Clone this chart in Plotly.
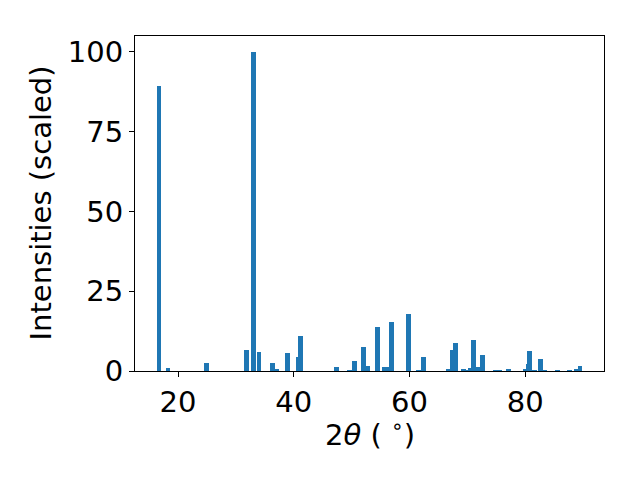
import plotly.graph_objects as go

two_theta = [16.70, 18.24, 24.89, 31.88, 33.09, 33.97, 36.29, 37.06, 38.88, 40.83,
             41.21, 47.34, 49.67, 50.54, 52.00, 52.78, 54.42, 55.63, 56.55, 56.93,
             59.77, 61.59, 62.37, 66.68, 67.43, 67.98, 69.36, 70.19, 70.53, 71.09,
             71.92, 72.64, 74.80, 75.66, 77.13, 80.03, 80.55, 80.76, 81.59, 82.66,
             83.43, 85.60, 87.67, 88.79, 89.48]
intensity = [89.4, 1.0, 2.4, 6.6, 100.0, 5.9, 2.4, 0.5, 5.6, 4.3,
             10.9, 1.2, 0.25, 3.05, 7.4, 1.5, 13.7, 1.2, 1.2, 15.3,
             17.8, 0.3, 4.3, 0.5, 6.5, 8.7, 0.5, 0.3, 0.85, 9.6,
             1.2, 4.9, 0.3, 0.3, 0.5, 0.5, 2.1, 6.2, 0.3, 3.7,
             0.3, 0.3, 0.3, 0.5, 1.5]
x_ticks = [20, 40, 60, 80]
y_ticks = [0, 25, 50, 75, 100]

fig = go.Figure(go.Bar(x=two_theta, y=intensity, width=0.8,
                       marker=dict(color="#1f77b4", line=dict(width=0))))

font = dict(family="DejaVu Sans", size=29, color="black")
fig.update_layout(
    width=640, height=480,
    margin=dict(l=127, r=44, t=28, b=117, autoexpand=False),
    paper_bgcolor="white", plot_bgcolor="white",
    font=font, showlegend=False, bargap=0,
    xaxis=dict(range=[12.57, 93.6], tickvals=x_ticks, ticks="outside", ticklen=5,
               tickwidth=1, tickcolor="black", showline=True, linecolor="black",
               linewidth=1, mirror=True, showgrid=False, zeroline=False,
               automargin=False),
    yaxis=dict(range=[0, 105], tickvals=y_ticks, ticks="outside", ticklen=5,
               tickwidth=1, tickcolor="black", showline=True, linecolor="black",
               linewidth=1, mirror=True, showgrid=False, zeroline=False,
               automargin=False),
    annotations=[
        dict(text="2<i>θ</i> ( <sup>∘</sup>)", xref="paper", yref="paper",
             x=0.5, y=0, xanchor="center", yanchor="middle", yshift=-62,
             showarrow=False, font=font),
        dict(text="Intensities (scaled)", xref="paper", yref="paper",
             x=0, y=0.5, xanchor="center", yanchor="middle", xshift=-95,
             textangle=-90, showarrow=False, font=font),
    ],
)
fig.write_html("out.html")
